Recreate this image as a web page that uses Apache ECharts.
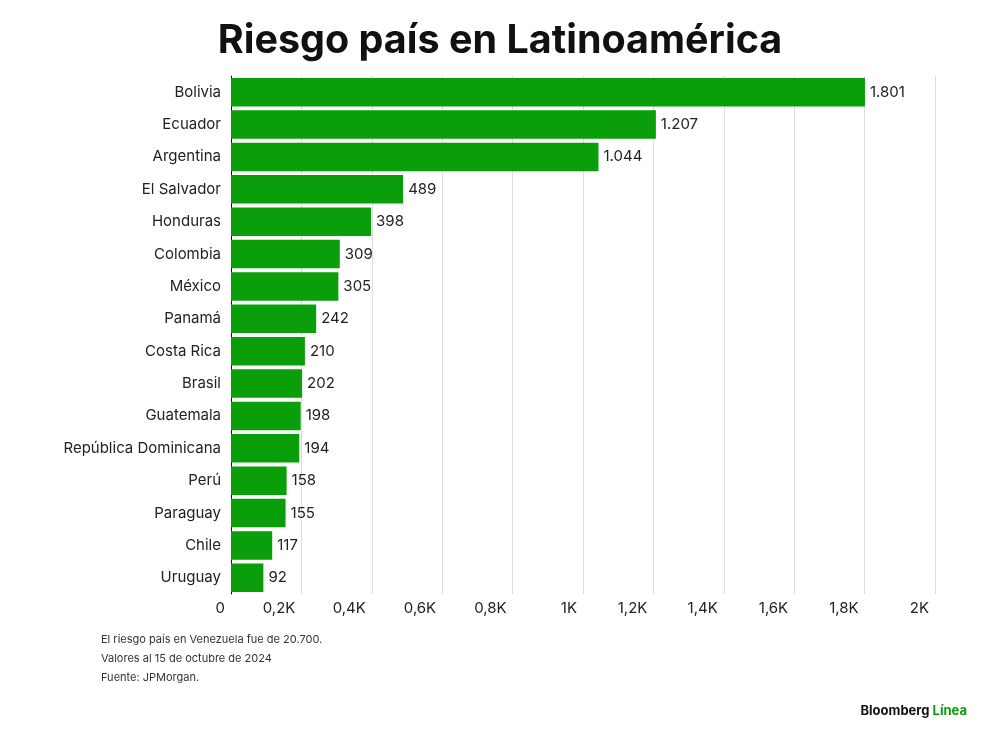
<!DOCTYPE html>
<html><head><meta charset="utf-8">
<script src="https://cdn.jsdelivr.net/npm/echarts@6/dist/echarts.min.js"></script>
<style>body{margin:0;background:#fff}#c{width:1000px;height:740px}</style>
</head><body><div id="c"></div>
<script>
const countries=["Bolivia","Ecuador","Argentina","El Salvador","Honduras","Colombia","México","Panamá","Costa Rica","Brasil","Guatemala","República Dominicana","Perú","Paraguay","Chile","Uruguay"];
const values=[1801,1207,1044,489,398,309,305,242,210,202,198,194,158,155,117,92];
const tickLabels={0:"0",200:"0,2K",400:"0,4K",600:"0,6K",800:"0,8K",1000:"1K",1200:"1,2K",1400:"1,4K",1600:"1,6K",1800:"1,8K",2000:"2K"};
const fmt=v=>v>=1000?Math.floor(v/1000)+"."+String(v%1000).padStart(3,"0"):String(v);
const ch=echarts.init(document.getElementById('c'));
ch.setOption({
 textStyle:{fontFamily:"Inter"},
 title:[{text:"Riesgo país en Latinoamérica",left:'center',top:16,textStyle:{fontFamily:"Inter",fontSize:39.5,fontWeight:'bold',color:'#111'}},
 {text:"El riesgo país en Venezuela fue de 20.700.\nValores al 15 de octubre de 2024\nFuente: JPMorgan.",left:96,top:625,textStyle:{fontFamily:"Inter",fontSize:11,fontWeight:'normal',color:'#333',lineHeight:19}},
 {text:"Bloomberg {g|Línea}",right:28,top:700,textStyle:{fontFamily:"Inter",fontSize:13,fontWeight:'bold',color:'#111',rich:{g:{fontFamily:"Inter",fontSize:13,fontWeight:'bold',color:'#0a9e0a'}}}}],
 grid:{left:231,right:65,top:76,bottom:146,containLabel:false},
 xAxis:{type:'value',min:0,max:2000,interval:200,
  axisLabel:{formatter:v=>tickLabels[v],align:'right',margin:7,color:'#222',fontSize:15,padding:[0,6,0,0]},
  splitLine:{lineStyle:{color:'#ddd'}},axisLine:{show:false},axisTick:{show:false}},
 yAxis:{type:'category',data:countries,inverse:true,
  axisLine:{lineStyle:{color:'#111'}},axisTick:{show:false},
  axisLabel:{color:'#222',fontSize:15,margin:10}},
 series:[{type:'bar',data:values,barCategoryGap:'12%',itemStyle:{color:'#0a9e0a'},
  label:{show:true,position:'right',formatter:p=>fmt(p.value),color:'#222',fontSize:15,distance:5}}]
});
</script></body></html>
